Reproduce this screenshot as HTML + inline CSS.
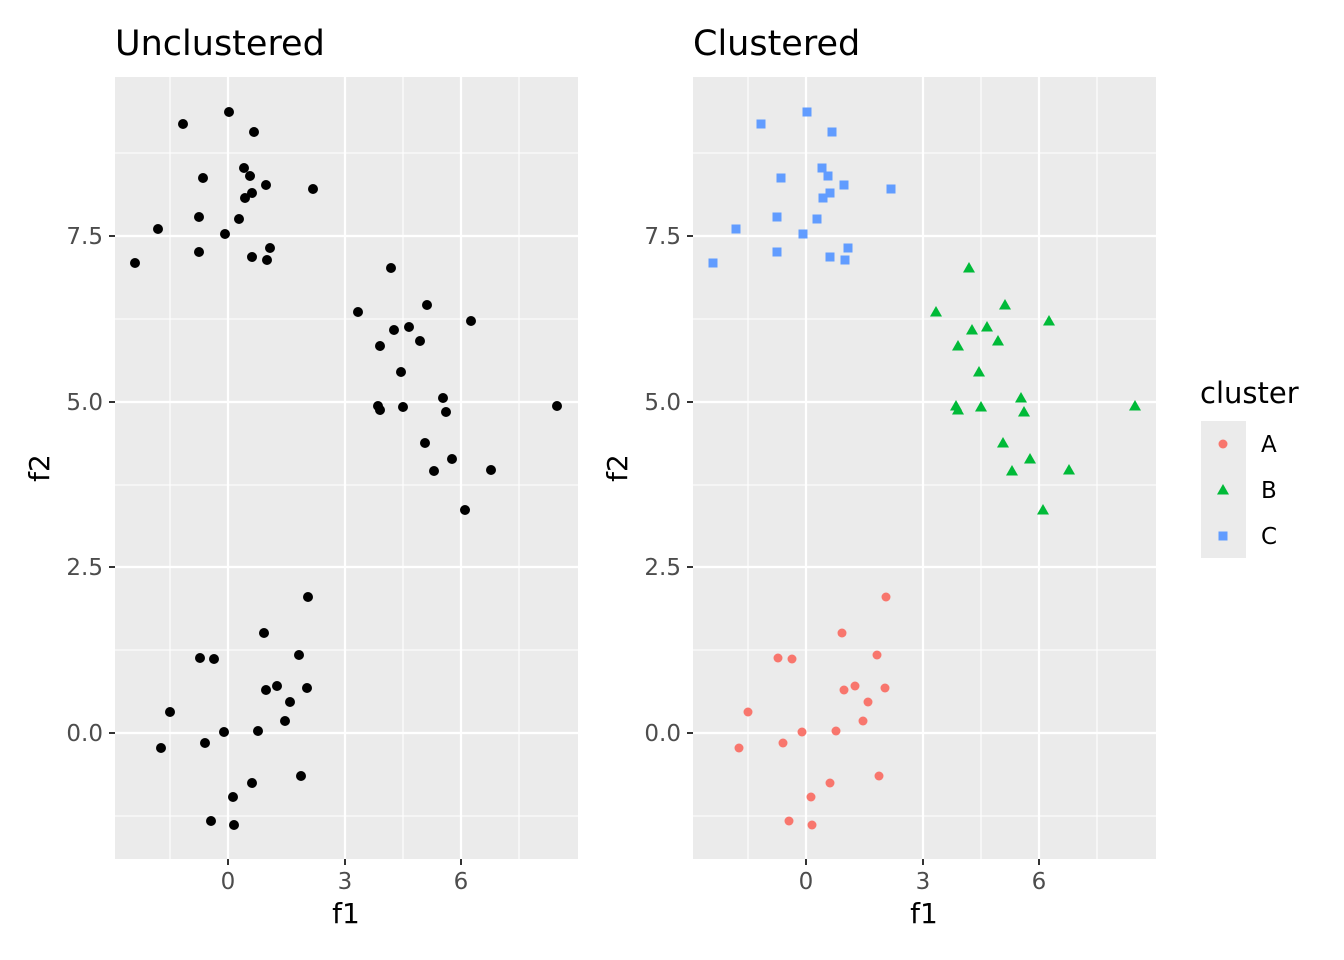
<!DOCTYPE html><html><head><style>body{margin:0;background:#fff}svg{display:block}text{font-family:"DejaVu Sans","Liberation Sans",sans-serif}</style></head><body>
<svg id="s" width="1344" height="960" xmlns="http://www.w3.org/2000/svg"></svg>
<script>
(function(){
const s=document.getElementById('s');let h='';
const ptTop=[[183,124],[229,112],[254,132],[244,168],[203,178],[250,176],[252,193],[266,185],[313,189],[245,198],[199,217],[239,219],[158,229],[225,234],[270,248],[199,252],[252,257],[267,260],[135,263]];
const ptMid=[[391,268],[358,312],[427,305],[471,321],[394,330],[409,327],[380,346],[420,341],[401,372],[443,398],[378,406],[380,410],[403,407],[446,412],[557,406],[425,443],[452,459],[434,471],[491,470],[465,510]];
const ptBot=[[308,597],[264,633],[200,658],[214,659],[299,655],[266,690],[277,686],[307,688],[290,702],[170,712],[285,721],[224,732],[258,731],[161,748],[205,743],[301,776],[252,783],[233,797],[211,821],[234,825]];
function panel(o,title){
 h+=`<rect x="${115+o}" y="77" width="463" height="782" fill="#EBEBEB"/>`;
 [170,403,519].forEach(x=>h+=`<line x1="${x+o}" x2="${x+o}" y1="77" y2="859" stroke="#fff" stroke-width="1.1"/>`);
 [153,319,485,650,816].forEach(y=>h+=`<line x1="${115+o}" x2="${578+o}" y1="${y}" y2="${y}" stroke="#fff" stroke-width="1.1"/>`);
 [[228,'0'],[345,'3'],[461,'6']].forEach(([x,t])=>{h+=`<line x1="${x+o}" x2="${x+o}" y1="77" y2="859" stroke="#fff" stroke-width="2.2"/><line x1="${x+o}" x2="${x+o}" y1="859" y2="865" stroke="#333" stroke-width="2"/><text x="${x+o}" y="889" font-size="23" fill="#4D4D4D" text-anchor="middle">${t}</text>`});
 [[733,'0.0'],[567,'2.5'],[402,'5.0'],[236,'7.5']].forEach(([y,t])=>{h+=`<line x1="${115+o}" x2="${578+o}" y1="${y}" y2="${y}" stroke="#fff" stroke-width="2.2"/><line x1="${109+o}" x2="${115+o}" y1="${y}" y2="${y}" stroke="#333" stroke-width="2"/><text x="${103+o}" y="${y+8}" font-size="23" fill="#4D4D4D" text-anchor="end">${t}</text>`});
 h+=`<text x="${346+o}" y="923" font-size="28" text-anchor="middle">f1</text><text transform="translate(${49+o},468) rotate(-90)" font-size="28" text-anchor="middle">f2</text><text x="${115+o}" y="55" font-size="35">${title}</text>`;
}
panel(0,'Unclustered');panel(578,'Clustered');
[...ptTop,...ptMid,...ptBot].forEach(([x,y])=>h+=`<circle cx="${x}" cy="${y}" r="5" fill="#000"/>`);
const o=578;
ptBot.forEach(([x,y])=>h+=`<circle cx="${x+o}" cy="${y}" r="4.5" fill="#F8766D"/>`);
const tri=(x,y,c)=>`<polygon points="${x},${y-6} ${x-6},${y+4.5} ${x+6},${y+4.5}" fill="${c}"/>`;
ptMid.forEach(([x,y])=>h+=tri(x+o,y,'#00BA38'));
ptTop.forEach(([x,y])=>h+=`<rect x="${x+o-4.5}" y="${y-4.5}" width="9" height="9" fill="#619CFF"/>`);
h+=`<text x="1200" y="403" font-size="29">cluster</text><rect x="1201" y="421" width="45" height="137" fill="#EBEBEB"/>`;
h+=`<circle cx="1223" cy="444" r="4.5" fill="#F8766D"/>`+tri(1223,490,'#00BA38')+`<rect x="1218.5" y="531.5" width="9" height="9" fill="#619CFF"/>`;
[['A',444],['B',490],['C',536]].forEach(([t,y])=>h+=`<text x="1261" y="${y+8}" font-size="23">${t}</text>`);
s.innerHTML=h;
})();
</script></body></html>
